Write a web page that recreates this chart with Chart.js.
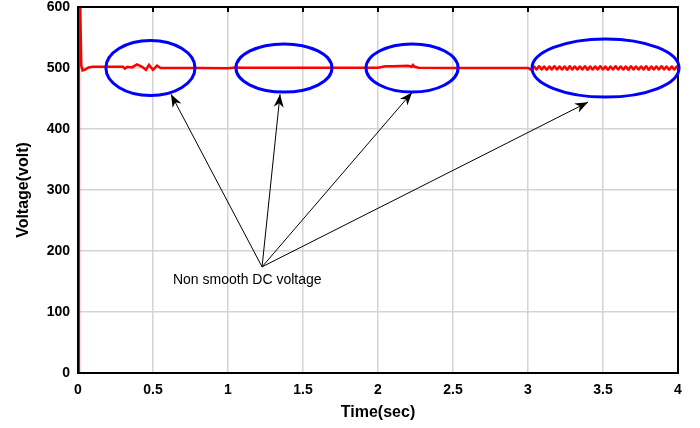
<!DOCTYPE html>
<html>
<head>
<meta charset="utf-8">
<title>DC voltage</title>
<script src="https://cdn.jsdelivr.net/npm/chart.js@4.4.1/dist/chart.umd.min.js"></script>
<style>
  html, body { margin: 0; padding: 0; background: #fff; }
  #wrap { width: 700px; height: 428px; }
</style>
</head>
<body>
<div id="wrap"><canvas id="voltChart" width="700" height="428"></canvas></div>
<script>
// Time axis (sec) and DC link voltage (volt)
const startTimes = [0, 0.006, 0.022, 0.03, 0.045, 0.07, 0.1, 0.2, 0.3, 0.313, 0.33, 0.36, 0.393, 0.427,
    0.453, 0.473, 0.5, 0.527, 0.55, 0.6, 0.8, 1.0, 1.05, 1.1, 1.5, 2.0, 2.05, 2.1, 2.2, 2.225, 2.233,
    2.245, 2.27, 2.5, 3.0, 3.027];
const startVolts = [0, 720, 505, 496, 497, 501, 502, 502, 502, 499, 502, 501, 506, 502,
    497, 505, 497, 504, 500, 500, 500, 499.5, 501, 500.5, 500.5, 500.5, 503, 503, 503.5, 502, 505,
    502, 500.5, 500, 500, 496];

// ripple after t = 3 s
const rippleTimes = [3.027, 3.040, 3.057, 3.074, 3.091, 3.108, 3.125, 3.142, 3.159, 3.176, 3.193, 3.210, 3.227,
    3.244, 3.261, 3.278, 3.295, 3.312, 3.329, 3.346, 3.363, 3.380, 3.397, 3.414, 3.431, 3.448, 3.465,
    3.482, 3.499, 3.516, 3.533, 3.550, 3.567, 3.584, 3.601, 3.618, 3.635, 3.652, 3.669, 3.686, 3.703,
    3.720, 3.737, 3.754, 3.771, 3.788, 3.805, 3.822, 3.839, 3.856, 3.873, 3.890, 3.907, 3.924, 3.941,
    3.958, 3.975, 3.992, 4.0];
const rippleVolts = [496, 502.5, 497.5, 503, 497.5, 502.5, 497, 502.5, 497.5, 503, 497.5, 502.5, 497.5,
    502.5, 497, 503, 497.5, 502.5, 497.5, 502.5, 497.5, 503, 497, 502.5, 497.5, 502.5, 497.5,
    503, 497.5, 502.5, 497, 502.5, 497.5, 503, 497.5, 502.5, 497.5, 502.5, 497, 503, 497.5,
    502.5, 497.5, 502.5, 497.5, 503, 497, 502.5, 497.5, 502.5, 497.5, 503, 497.5, 502.5, 497,
    502.5, 497.5, 502.5, 500];

const xTicks = [0, 0.5, 1, 1.5, 2, 2.5, 3, 3.5, 4];
const yTicks = [0, 100, 200, 300, 400, 500, 600];

const startPoints = startTimes.map((t, i) => ({ x: t, y: startVolts[i] }));
const ripplePoints = rippleTimes.map((t, i) => ({ x: t, y: rippleVolts[i] }));

// Annotations in data units: ellipses (center + radii), arrows and label
const ellipses = [
    { t: 0.483, v: 500, rt: 0.297, rv: 45 },
    { t: 1.373, v: 500, rt: 0.32, rv: 39.5 },
    { t: 2.227, v: 500, rt: 0.307, rv: 39.5 },
    { t: 3.517, v: 500, rt: 0.49, rv: 47.7 }
];
const arrowFrom = { t: 1.227, v: 174 };
const arrowTips = [
    { t: 0.62, v: 457 },
    { t: 1.347, v: 457 },
    { t: 2.227, v: 460 },
    { t: 3.4, v: 444 }
];
const noteLabel = { text: 'Non smooth DC voltage', t: 0.633, v: 153 };

const FONT = "'Liberation Sans', Arial, Helvetica, sans-serif";

const notesPlugin = {
    id: 'notes',
    afterDatasetsDraw(chart) {
        const { ctx, chartArea, scales: { x, y } } = chart;
        ctx.save();

        // black frame round the plot
        ctx.strokeStyle = '#000';
        ctx.lineWidth = 2;
        ctx.strokeRect(chartArea.left, chartArea.top,
            chartArea.right - chartArea.left, chartArea.bottom - chartArea.top);

        // small inward ticks along the top edge
        ctx.lineWidth = 2;
        xTicks.forEach(v => {
            const px = x.getPixelForValue(v);
            ctx.beginPath();
            ctx.moveTo(px, chartArea.top);
            ctx.lineTo(px, chartArea.top + 5);
            ctx.stroke();
        });

        // blue ellipses
        ctx.strokeStyle = '#0000ff';
        ctx.lineWidth = 3;
        ellipses.forEach(e => {
            const cx = x.getPixelForValue(e.t);
            const cy = y.getPixelForValue(e.v);
            const rx = x.getPixelForValue(e.t + e.rt) - cx;
            const ry = cy - y.getPixelForValue(e.v + e.rv);
            ctx.beginPath();
            ctx.ellipse(cx, cy, rx, ry, 0, 0, Math.PI * 2);
            ctx.stroke();
        });

        // arrows
        const x0 = x.getPixelForValue(arrowFrom.t);
        const y0 = y.getPixelForValue(arrowFrom.v);
        ctx.strokeStyle = '#000';
        ctx.fillStyle = '#000';
        ctx.lineWidth = 1;
        arrowTips.forEach(a => {
            const x1 = x.getPixelForValue(a.t);
            const y1 = y.getPixelForValue(a.v);
            const ang = Math.atan2(y1 - y0, x1 - x0);
            ctx.beginPath();
            ctx.moveTo(x0, y0);
            ctx.lineTo(x1, y1);
            ctx.stroke();
            const len = 13, wid = 5;
            ctx.beginPath();
            ctx.moveTo(x1, y1);
            ctx.lineTo(x1 - len * Math.cos(ang) + wid * Math.sin(ang), y1 - len * Math.sin(ang) - wid * Math.cos(ang));
            ctx.lineTo(x1 - 0.7 * len * Math.cos(ang), y1 - 0.7 * len * Math.sin(ang));
            ctx.lineTo(x1 - len * Math.cos(ang) - wid * Math.sin(ang), y1 - len * Math.sin(ang) + wid * Math.cos(ang));
            ctx.closePath();
            ctx.fill();
        });

        // label
        ctx.font = '14px ' + FONT;
        ctx.textAlign = 'left';
        ctx.textBaseline = 'middle';
        ctx.fillText(noteLabel.text, x.getPixelForValue(noteLabel.t), y.getPixelForValue(noteLabel.v));

        ctx.restore();
    }
};

new Chart(document.getElementById('voltChart'), {
    type: 'line',
    data: {
        datasets: [{
            data: startPoints,
            borderColor: '#ff0000',
            borderWidth: 2.5,
            pointRadius: 0,
            tension: 0,
            fill: false
        }, {
            data: ripplePoints,
            borderColor: '#ff0000',
            borderWidth: 2.5,
            pointRadius: 0,
            tension: 0.4,
            fill: false
        }]
    },
    options: {
        responsive: false,
        animation: false,
        layout: { padding: { top: 7, right: 22, left: 0, bottom: 0 } },
        plugins: {
            legend: { display: false },
            tooltip: { enabled: false }
        },
        scales: {
            x: {
                type: 'linear',
                min: 0,
                max: 4,
                afterFit(scale) { scale.height = 55; },
                afterBuildTicks(scale) { scale.ticks = xTicks.map(v => ({ value: v })); },
                grid: { color: '#d4d4d4', lineWidth: 1.5, drawTicks: false },
                border: { display: false },
                ticks: {
                    padding: 9,
                    color: '#000',
                    maxRotation: 0,
                    font: { family: FONT, size: 14, weight: 'bold' },
                    callback: v => String(v)
                },
                title: {
                    display: true,
                    text: 'Time(sec)',
                    color: '#000',
                    font: { family: FONT, size: 16, weight: 'bold' },
                    padding: { top: 0, bottom: 6 }
                }
            },
            y: {
                min: 0,
                max: 600,
                afterFit(scale) {
                    scale.width = 78;
                    scale.paddingTop = 0;
                    scale.paddingBottom = 0;
                },
                afterBuildTicks(scale) { scale.ticks = yTicks.map(v => ({ value: v })); },
                grid: { color: '#d4d4d4', lineWidth: 1.5, drawTicks: false },
                border: { display: false },
                ticks: {
                    padding: 8,
                    color: '#000',
                    font: { family: FONT, size: 14, weight: 'bold' },
                    callback: v => String(v)
                },
                title: {
                    display: true,
                    text: 'Voltage(volt)',
                    color: '#000',
                    font: { family: FONT, size: 16, weight: 'bold' },
                    padding: { top: 14, bottom: 0 }
                }
            }
        }
    },
    plugins: [notesPlugin]
});
</script>
</body>
</html>
